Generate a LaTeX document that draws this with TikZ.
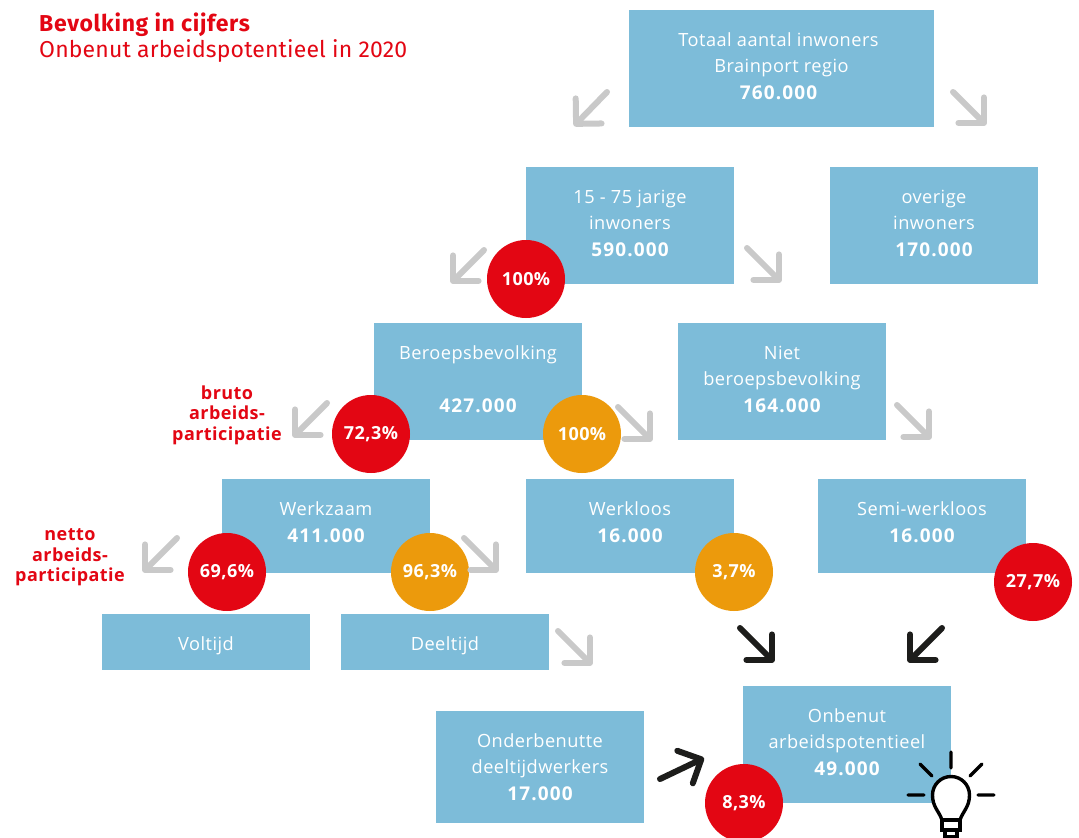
\documentclass[tikz,border=0pt]{standalone}
\usepackage{fontspec}
\setmainfont[LetterSpace=2.5, BoldFeatures={LetterSpace=2.5}]{Open Sans}
\newfontfamily\titelfont[LetterSpace=0.7, BoldFeatures={LetterSpace=3}]{Fira Sans}
\newfontfamily\getalfont[LetterSpace=6]{Open Sans}
\usetikzlibrary{arrows.meta}
\definecolor{vakblauw}{HTML}{7DBCD9}
\definecolor{rood}{HTML}{E30613}
\definecolor{oranje}{HTML}{EC9A0C}
\definecolor{pijlgrijs}{HTML}{C9C9C9}
\definecolor{pijlzwart}{HTML}{1D1D1B}
\newcommand\getal[1]{{\getalfont\fontsize{19}{26.5}\selectfont\bfseries #1}}
\tikzset{
  vak/.style={fill=vakblauw, text=white, align=center, minimum width=208pt, inner sep=0pt,
    font=\fontsize{18.2}{26.5}\selectfont},
  hoog/.style={vak, minimum height=117pt, text depth=5pt},
  midden/.style={vak, minimum height=94pt, text depth=8pt},
  laag/.style={vak, minimum height=56pt, text depth=0pt, text height=16pt},
  schijf/.style={circle, minimum size=78pt, inner sep=0pt, text=white,
    font=\fontsize{18}{20}\selectfont\bfseries},
  kop/.style={anchor=base west, inner sep=0pt, text=rood, font=\titelfont\fontsize{23}{26}\selectfont},
  rodetekst/.style={text=rood, align=center, font=\fontsize{18}{20.5}\selectfont\bfseries},
  pijl/.style={line width=6pt, line cap=round,
    -{Straight Barb[length=18pt, width=36pt, round, line width=6pt]}},
  lamp/.style={line width=3.4pt, draw=black}
}
\begin{document}
\begin{tikzpicture}[x=1pt, y=-1pt]
\useasboundingbox (0,0) rectangle (1079,838);
\fill[white] (0,0) rectangle (1079,838);

\node[kop] (titel) at (39,31) {\bfseries Bevolking in cijfers};
\node[kop] (ondertitel) at (39,57) {Onbenut arbeidspotentieel in 2020};

\node[hoog, minimum width=305pt] (totaal) at (781.5,68.5) {Totaal aantal inwoners\hspace*{6pt}\\Brainport regio\hspace*{6pt}\\\getal{760.000}\hspace*{6pt}};
\node[hoog] (jarig) at (630,225.5) {15 - 75 jarige\\inwoners\\\getal{590.000}};
\node[hoog] (overig) at (934,225.5) {overige\\inwoners\\\getal{170.000}};
\node[hoog] (beroeps) at (478,381.5) {Beroepsbevolking\\\mbox{}\\\getal{427.000}};
\node[hoog] (nietberoeps) at (782,381.5) {Niet\\beroepsbevolking\\\getal{164.000}};
\node[midden] (werkzaam) at (326,526) {Werkzaam\\\getal{411.000}};
\node[midden] (werkloos) at (630,526) {Werkloos\\\getal{16.000}};
\node[midden] (semi) at (922,526) {Semi-werkloos\\\getal{16.000}};
\node[laag] (voltijd) at (206,642) {Voltijd};
\node[laag] (deeltijd) at (445,642) {Deeltijd};
\node[hoog, minimum height=112pt, text depth=0pt] (onderbenut) at (540,767) {Onderbenutte\\deeltijdwerkers\\\getal{17.000}};
\node[hoog] (onbenut) at (847,744.5) {Onbenut\\arbeidspotentieel\\\getal{49.000}};

\node[schijf, fill=rood] (p100) at (526,279) {100\%};
\node[schijf, fill=rood] (p723) at (371,434) {72,3\%};
\node[schijf, fill=oranje] (q100) at (582,434) {100\%};
\node[schijf, fill=rood] (p696) at (227,572) {69,6\%};
\node[schijf, fill=oranje] (q963) at (430,572) {96,3\%};
\node[schijf, fill=oranje] (q37) at (734,572) {3,7\%};
\node[schijf, fill=rood] (p277) at (1033,582) {27,7\%};
\node[schijf, fill=rood] (p83) at (744,803) {8,3\%};

\node[rodetekst] (bruto) at (227,415) {bruto\\arbeids-\\participatie};
\node[rodetekst] (netto) at (70,557.5) {netto\\arbeids-\\participatie};

\foreach \naam/\xa/\ya/\xb/\yb in {a/607/92/574/126, b/953/92/986/125, c/484/250/451/283,
  d/747/248/781/282, e/327/403/293/437, f/618/407/652/441, g/897/405/931/439,
  h/177/538/143/572, i/464/538/498/572, j/558/631/592/665} {
  \coordinate (start\naam) at (\xa,\ya);
  \coordinate (eind\naam) at (\xb,\yb);
  \draw[pijl, pijlgrijs] (start\naam) -- (eind\naam);
}
\foreach \naam/\xa/\ya/\xb/\yb in {k/740/628/774/662, l/942/628/908/662, m/660/779/704/758} {
  \coordinate (start\naam) at (\xa,\ya);
  \coordinate (eind\naam) at (\xb,\yb);
  \draw[pijl, pijlzwart] (start\naam) -- (eind\naam);
}

\draw[lamp, fill=white] (942,820) .. controls (939,811) and (932.5,807) .. (932.5,795)
  arc[start angle=180, end angle=360, radius=18.5] .. controls (969.5,807) and (963,811) .. (960,820) -- cycle;
\draw[lamp] (942,820) rectangle (960,830);
\draw[lamp] (945,830) -- (945,845) (957,830) -- (957,845) (945,837) -- (957,837);
\draw[lamp, line cap=round] (951,752) -- (951,768) (920,764) -- (932,776) (982,764) -- (970,776)
  (908,795) -- (924,795) (978,795) -- (994,795);
\end{tikzpicture}
\end{document}
